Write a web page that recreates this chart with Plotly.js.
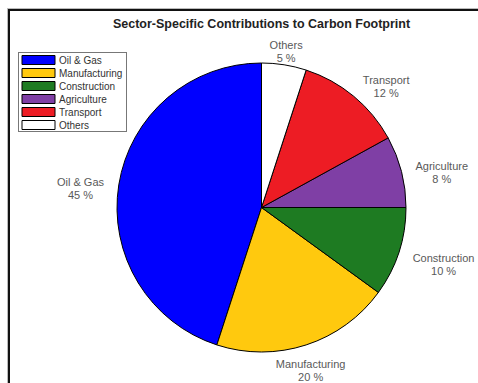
<!DOCTYPE html>
<html>
<head>
<meta charset="utf-8">
<script src="https://cdn.plot.ly/plotly-3.0.1.min.js"></script>
<style>
  html, body { margin: 0; padding: 0; background: #fff; overflow: hidden; }
  #chart { position: absolute; left: 0; top: 0; width: 478px; height: 383px; }
  #frame { position: absolute; left: 8px; top: 9px; width: 500px; height: 420px;
           border-left: 2px solid #111; border-top: 2px solid #111;
           box-shadow: -1px -1px 0 #bbb; pointer-events: none; }
</style>
</head>
<body>
<div id="chart"></div>
<div id="frame"></div>
<script>
const sectors = ["Oil & Gas", "Manufacturing", "Construction", "Agriculture", "Transport", "Others"];
const shares = [45, 20, 10, 8, 12, 5];
const colors = ["#0000ff", "#ffc90e", "#1e7b22", "#7f3fa5", "#ed1c24", "#ffffff"];

const W = 478, H = 383;
const cx = 261.5, cy = 207.5, r = 144.5;
const total = shares.reduce(function (a, b) { return a + b; }, 0);

const trace = {
  type: "pie",
  labels: sectors,
  values: shares,
  sort: false,
  direction: "counterclockwise",
  rotation: -shares[0] / total * 360,
  marker: { colors: colors, line: { color: "#000", width: 1 } },
  texttemplate: "%{label}<br>%{value} %",
  textposition: "outside",
  textfont: { family: "Liberation Sans, Arial, sans-serif", size: 11, color: "#595959" },
  outsidetextfont: { family: "Liberation Sans, Arial, sans-serif", size: 11, color: "#595959" },
  hoverinfo: "none",
  domain: { x: [(cx - r) / W, (cx + r) / W], y: [1 - (cy + r) / H, 1 - (cy - r) / H] }
};

const layout = {
  width: W, height: H,
  margin: { l: 0, r: 0, t: 0, b: 0 },
  paper_bgcolor: "#fff",
  title: {
    text: "<b>Sector-Specific Contributions to Carbon Footprint</b>",
    font: { family: "Liberation Sans, Arial, sans-serif", size: 12.5, color: "#222" },
    x: cx / W, xanchor: "center", y: 1 - 24 / H, yanchor: "middle", yref: "container"
  },
  showlegend: true,
  legend: {
    x: 18 / W, xanchor: "left", y: 1 - 52 / H, yanchor: "top",
    bordercolor: "#777", borderwidth: 1, bgcolor: "#fff",
    font: { family: "Liberation Sans, Arial, sans-serif", size: 10, color: "#333" }
  }
};

Plotly.newPlot("chart", [trace], layout, { displayModeBar: false, staticPlot: true }).then(function () {
  // legend: wide swatches, compact rows
  const leg = document.querySelector(".legend");
  if (leg) {
    leg.querySelectorAll("g.traces").forEach(function (g, i) {
      g.setAttribute("transform", "translate(1," + (8 + i * 13) + ")");
      const p = g.querySelector("path.legendpie");
      if (p) p.setAttribute("d", "M-17,-4.5H16V4.5H-17Z");
    });
    const bg = leg.querySelector("rect.bg");
    if (bg) { bg.setAttribute("width", 108); bg.setAttribute("height", 79); }
  }
  // outside labels: anchored at 1.1 r along each slice bisector
  const root = document.getElementById("chart").getBoundingClientRect();
  let acc = 0;
  document.querySelectorAll("g.slice").forEach(function (s, i) {
    const mid = (acc + shares[i] / 2) / total * 2 * Math.PI;
    acc += shares[i];
    const t = s.querySelector("g.slicetext text");
    if (!t) return;
    const lines = t.querySelectorAll("tspan.line");
    lines.forEach(function (ts) {
      const dy = ts.getAttribute("dy");
      if (dy && /em$/.test(dy) && parseFloat(dy) !== 0) {
        ts.setAttribute("dy", (parseFloat(dy) / 1.3 * 13) + "px");
      }
    });
    const b = t.getBoundingClientRect();
    const left = b.left - root.left, right = left + b.width, mx = left + b.width / 2;
    const first = lines.length ? lines[0].getBoundingClientRect() : b;
    const fy = first.top - root.top + first.height / 2;
    const ux = -Math.sin(mid), uy = -Math.cos(mid);
    const ax = cx + 1.1 * r * ux, ay = cy + 1.1 * r * uy;
    let sx;
    if (ux > 0.35) sx = ax - left;
    else if (ux < -0.35) sx = ax - right;
    else sx = ax - mx;
    const sy = (ay + 6 * uy) - fy;
    const old = t.getAttribute("transform") || "";
    t.setAttribute("transform", "translate(" + sx + "," + sy + ") " + old);
  });
});
</script>
</body>
</html>
